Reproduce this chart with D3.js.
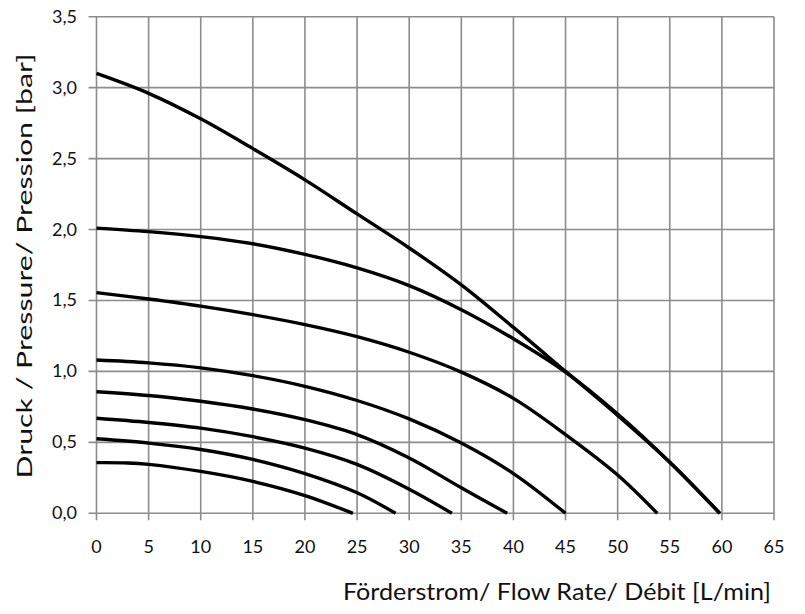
<!DOCTYPE html>
<html>
<head>
<meta charset="utf-8">
<script src="https://cdn.jsdelivr.net/npm/d3@7"></script>
<style>
  html, body { margin: 0; padding: 0; background: #fff; }
  svg { display: block; }
</style>
</head>
<body>
<svg id="chart" width="805" height="614"></svg>
<script>
// ---- data ----
const xTicks = [0, 5, 10, 15, 20, 25, 30, 35, 40, 45, 50, 55, 60, 65];
const yTicks = [0, 0.5, 1.0, 1.5, 2.0, 2.5, 3.0, 3.5];
const xTitle = "Förderstrom/ Flow Rate/ Débit [L/min]";
const yTitle = "Druck / Pressure/ Pression [bar]";

const curve1 = [[0,3.10],[5,2.96],[10,2.78],[15,2.57],[20,2.35],[25,2.11],[30,1.87],[35,1.61],[40,1.31],[45,1.0],[50,0.69],[55,0.36],[59.8,0]];
const curve2 = [[0,2.01],[5,1.985],[10,1.95],[15,1.90],[20,1.825],[25,1.73],[30,1.605],[35,1.435],[40,1.23],[45,0.995],[50,0.70],[55,0.36],[59.8,0]];
const curve3 = [[0,1.555],[5,1.51],[10,1.46],[15,1.40],[20,1.33],[25,1.245],[30,1.135],[35,0.995],[40,0.81],[45,0.555],[50,0.27],[53.8,0]];
const curve4 = [[0,1.08],[5,1.06],[10,1.025],[15,0.97],[20,0.895],[25,0.795],[30,0.665],[35,0.495],[40,0.28],[45,0]];
const curve5 = [[0,0.857],[5,0.83],[10,0.79],[15,0.735],[20,0.66],[25,0.555],[30,0.39],[35,0.18],[39.4,0]];
const curve6 = [[0,0.67],[5,0.64],[10,0.60],[15,0.54],[20,0.46],[25,0.345],[30,0.17],[34.1,0]];
const curve7 = [[0,0.525],[5,0.495],[10,0.45],[15,0.38],[20,0.28],[25,0.145],[28.7,0]];
const curve8 = [[0,0.357],[3,0.355],[5,0.345],[10,0.295],[15,0.225],[20,0.125],[24.6,0]];
const curves = [curve1, curve2, curve3, curve4, curve5, curve6, curve7, curve8];

// ---- layout ----
const svg = d3.select("#chart");
const x = d3.scaleLinear().domain([0, 65]).range([96.5, 774]);
const y = d3.scaleLinear().domain([0, 3.5]).range([513.3, 16.7]);
const fmt = d => d3.format(".1f")(d).replace(".", ",");
const gridColor = "#8c8c8c";

// grid
svg.append("g").selectAll("line.v").data(xTicks).join("line")
  .attr("x1", d => x(d)).attr("x2", d => x(d))
  .attr("y1", y(3.5)).attr("y2", y(0) + 7)
  .attr("stroke", gridColor).attr("stroke-width", 1.6);
svg.append("g").selectAll("line.h").data(yTicks).join("line")
  .attr("x1", x(0) - 8).attr("x2", x(65))
  .attr("y1", d => y(d)).attr("y2", d => y(d))
  .attr("stroke", gridColor).attr("stroke-width", 1.6);

// tick labels
svg.append("g").selectAll("text").data(xTicks).join("text")
  .attr("x", d => x(d)).attr("y", 553)
  .attr("text-anchor", "middle")
  .attr("font-family", "Lato, 'Open Sans', sans-serif")
  .attr("font-size", 18).attr("fill", "#111")
  .text(d => d);
svg.append("g").selectAll("text").data(yTicks).join("text")
  .attr("x", 77).attr("y", d => y(d) + 6)
  .attr("text-anchor", "end")
  .attr("font-family", "Lato, 'Open Sans', sans-serif")
  .attr("font-size", 18).attr("fill", "#111")
  .text(d => fmt(d));

// axis titles
svg.append("text")
  .attr("x", 557).attr("y", 600)
  .attr("text-anchor", "middle")
  .attr("font-family", "Lato, 'Open Sans', sans-serif")
  .attr("font-size", 23).attr("fill", "#111")
  .attr("textLength", 428).attr("lengthAdjust", "spacingAndGlyphs")
  .text(xTitle);
svg.append("text")
  .attr("transform", "translate(32,266) rotate(-90)")
  .attr("text-anchor", "middle")
  .attr("font-family", "Lato, 'Open Sans', sans-serif")
  .attr("font-size", 22).attr("fill", "#111")
  .attr("textLength", 425).attr("lengthAdjust", "spacingAndGlyphs")
  .text(yTitle);

// curves
const line = d3.line().x(d => x(d[0])).y(d => y(d[1])).curve(d3.curveCatmullRom.alpha(0.5));
svg.append("g").selectAll("path").data(curves).join("path")
  .attr("d", line)
  .attr("fill", "none").attr("stroke", "#000")
  .attr("stroke-width", 3.4).attr("stroke-linecap", "butt");
</script>
</body>
</html>
